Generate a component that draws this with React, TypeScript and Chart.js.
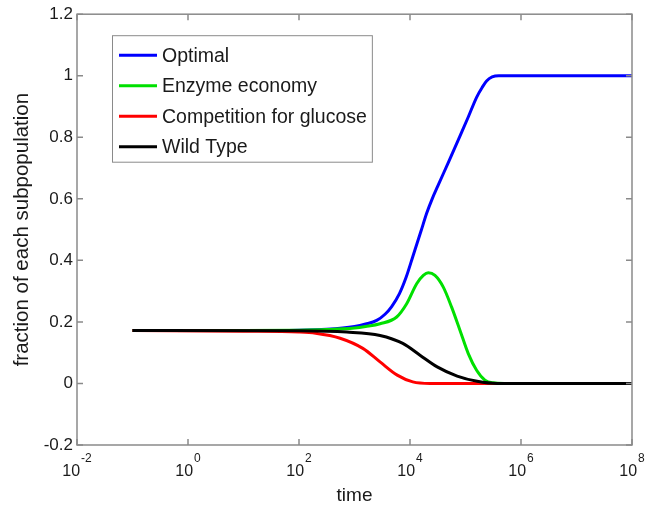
import React, { useEffect, useRef } from "react";
import { Chart, registerables } from "chart.js";

Chart.register(...registerables);

const FONT = '"Liberation Sans", Arial, Helvetica, sans-serif';
const TEXT_COLOR = "#1a1a1a";
const FRAME_COLOR = "#8a8a8a";

const SERIES_NAMES = ["Optimal", "Enzyme economy", "Competition for glucose", "Wild Type"];
const SERIES_COLORS = ["#0000ff", "#00e000", "#ff0000", "#000000"];

// time given as log10 exponents
const optimalExp = [-1, 1, 2, 2.5, 3.0, 3.2, 3.4, 3.55, 3.67, 3.81, 3.93, 4.05, 4.2, 4.3, 4.4, 4.5, 4.7, 4.9, 5.05, 5.2, 5.3, 5.38, 5.48, 5.6, 5.9, 8];
const optimalVal = [0.172, 0.172, 0.173, 0.176, 0.185, 0.193, 0.205, 0.225, 0.25, 0.292, 0.345, 0.412, 0.496, 0.553, 0.6, 0.641, 0.722, 0.804, 0.866, 0.93, 0.962, 0.983, 0.996, 1.0, 1.0, 1.0];

const enzymeExp = [-1, 1, 2, 2.5, 3.0, 3.2, 3.46, 3.76, 3.94, 4.12, 4.24, 4.33, 4.45, 4.6, 4.75, 4.9, 5.05, 5.2, 5.35, 5.5, 5.7, 8];
const enzymeVal = [0.172, 0.172, 0.173, 0.175, 0.18, 0.185, 0.194, 0.216, 0.259, 0.324, 0.351, 0.36, 0.351, 0.313, 0.248, 0.173, 0.097, 0.043, 0.011, 0.002, 0.0, 0.0];

const competitionExp = [-1, 1.0, 2.0, 2.3, 2.74, 3.15, 3.46, 3.77, 4.05, 4.36, 5, 8];
const competitionVal = [0.172, 0.17, 0.167, 0.163, 0.147, 0.114, 0.07, 0.027, 0.005, 0.0, 0.0, 0.0];

const wildTypeExp = [-1, 2.0, 2.86, 3.46, 3.87, 4.18, 4.49, 4.85, 5.21, 5.57, 6, 8];
const wildTypeVal = [0.172, 0.171, 0.167, 0.156, 0.13, 0.092, 0.054, 0.024, 0.007, 0.0, 0.0, 0.0];

const X_TICK_EXPONENTS = [-2, 0, 2, 4, 6, 8];
const Y_TICKS = [-0.2, 0, 0.2, 0.4, 0.6, 0.8, 1.0, 1.2];

const SERIES_EXP = [optimalExp, enzymeExp, competitionExp, wildTypeExp];
const SERIES_VAL = [optimalVal, enzymeVal, competitionVal, wildTypeVal];

const framePlugin = {
  id: "matlabFrame",
  afterDatasetsDraw(chart: any) {
    const { ctx, chartArea, scales } = chart;
    const { left, right, top, bottom } = chartArea;
    ctx.save();
    ctx.strokeStyle = FRAME_COLOR;
    ctx.lineWidth = 1.5;
    ctx.strokeRect(left, top, right - left, bottom - top);
    const tl = 6;
    ctx.beginPath();
    scales.x.ticks.forEach((t: any) => {
      const px = scales.x.getPixelForValue(t.value);
      ctx.moveTo(px, bottom);
      ctx.lineTo(px, bottom - tl);
      ctx.moveTo(px, top);
      ctx.lineTo(px, top + tl);
    });
    scales.y.ticks.forEach((t: any) => {
      const py = scales.y.getPixelForValue(t.value);
      ctx.moveTo(left, py);
      ctx.lineTo(left + tl, py);
      ctx.moveTo(right, py);
      ctx.lineTo(right - tl, py);
    });
    ctx.stroke();
    ctx.restore();
  },
};

const xLabelPlugin = {
  id: "powerLabels",
  afterDraw(chart: any) {
    const { ctx, chartArea, scales } = chart;
    const xs = scales.x;
    ctx.save();
    ctx.fillStyle = TEXT_COLOR;
    ctx.textAlign = "left";
    ctx.textBaseline = "middle";
    xs.ticks.forEach((t: any) => {
      const px = xs.getPixelForValue(t.value);
      const e = Math.round(Math.log10(t.value));
      const base = "10";
      const exp = String(e);
      ctx.font = `16px ${FONT}`;
      const wb = ctx.measureText(base).width;
      ctx.font = `12px ${FONT}`;
      const we = ctx.measureText(exp).width;
      const start = px - (wb + 1 + we) / 2;
      ctx.font = `16px ${FONT}`;
      ctx.fillText(base, start, chartArea.bottom + 27);
      ctx.font = `12px ${FONT}`;
      ctx.fillText(exp, start + wb + 1, chartArea.bottom + 14);
    });
    ctx.restore();
  },
};

const boxLegendPlugin = {
  id: "boxLegend",
  afterDraw(chart: any) {
    const { ctx, chartArea } = chart;
    const datasets = chart.data.datasets;
    const x0 = chartArea.left + 35;
    const y0 = chartArea.top + 21;
    const rowH = 30.5;
    const fontSize = 19.5;
    ctx.save();
    ctx.font = `${fontSize}px ${FONT}`;
    let maxW = 0;
    datasets.forEach((d: any) => {
      maxW = Math.max(maxW, ctx.measureText(d.label).width);
    });
    const w = 50 + maxW + 5;
    const h = 20 + rowH * (datasets.length - 1) + 15;
    ctx.fillStyle = "#ffffff";
    ctx.fillRect(x0, y0, w, h);
    ctx.strokeStyle = FRAME_COLOR;
    ctx.lineWidth = 1;
    ctx.strokeRect(x0 + 0.5, y0 + 0.5, w, h);
    datasets.forEach((d: any, i: number) => {
      const cy = y0 + 20 + i * rowH;
      ctx.strokeStyle = d.borderColor;
      ctx.lineWidth = 3;
      ctx.beginPath();
      ctx.moveTo(x0 + 7, cy);
      ctx.lineTo(x0 + 45, cy);
      ctx.stroke();
      ctx.fillStyle = TEXT_COLOR;
      ctx.textAlign = "left";
      ctx.textBaseline = "middle";
      ctx.fillText(d.label, x0 + 50, cy + 1);
    });
    ctx.restore();
  },
};

export default function App() {
  const canvasRef = useRef<HTMLCanvasElement | null>(null);

  useEffect(() => {
    if (!canvasRef.current) return;
    const datasets = SERIES_NAMES.map((name, i) => ({
      label: name,
      data: SERIES_EXP[i].map((e, j) => ({ x: Math.pow(10, e), y: SERIES_VAL[i][j] })),
      borderColor: SERIES_COLORS[i],
      backgroundColor: SERIES_COLORS[i],
      borderWidth: 3,
      pointRadius: 0,
      fill: false,
      cubicInterpolationMode: "monotone" as const,
      order: SERIES_NAMES.length - 1 - i,
    }));

    const chart = new Chart(canvasRef.current, {
      type: "line",
      data: { datasets },
      options: {
        animation: false,
        responsive: true,
        maintainAspectRatio: false,
        events: [],
        layout: { padding: { left: 0, top: 13, right: 25, bottom: 0 } },
        plugins: {
          legend: { display: false },
          tooltip: { enabled: false },
        },
        scales: {
          x: {
            type: "logarithmic",
            min: 1e-2,
            max: 1e8,
            afterBuildTicks: (s: any) => {
              s.ticks = X_TICK_EXPONENTS.map((e) => ({ value: Math.pow(10, e) }));
            },
            afterFit: (s: any) => {
              s.height = 62;
            },
            grid: { display: false, drawTicks: false },
            border: { display: false },
            ticks: { display: false },
            title: {
              display: true,
              text: "time",
              color: TEXT_COLOR,
              font: { family: FONT, size: 19 },
              padding: { top: 0, bottom: 0 },
            },
          },
          y: {
            type: "linear",
            min: -0.2,
            max: 1.2,
            afterBuildTicks: (s: any) => {
              s.ticks = Y_TICKS.map((v) => ({ value: v }));
            },
            afterFit: (s: any) => {
              s.width = 77;
            },
            grid: { display: false, drawTicks: false },
            border: { display: false },
            ticks: {
              color: TEXT_COLOR,
              font: { family: FONT, size: 17 },
              padding: 4,
              callback: (v: any) => String(Math.round(Number(v) * 10) / 10),
            },
            title: {
              display: true,
              text: "fraction of each subpopulation",
              color: TEXT_COLOR,
              font: { family: FONT, size: 20.5 },
              padding: { top: 10, bottom: 0 },
            },
          },
        },
      } as any,
      plugins: [framePlugin, xLabelPlugin, boxLegendPlugin],
    });
    return () => chart.destroy();
  }, []);

  return (
    <div style={{ position: "absolute", left: 0, top: 0, width: 657, height: 507, background: "#fff" }}>
      <canvas ref={canvasRef} />
    </div>
  );
}
